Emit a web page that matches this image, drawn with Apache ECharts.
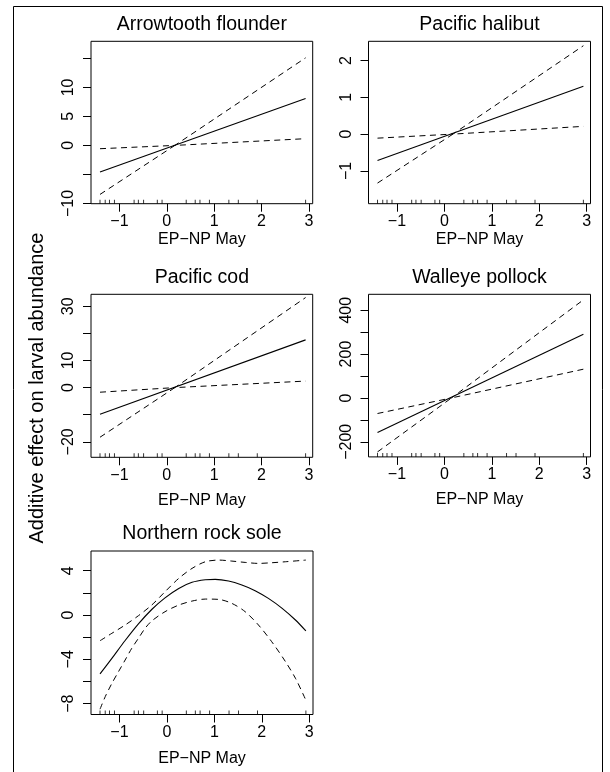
<!DOCTYPE html>
<html>
<head>
<meta charset="utf-8">
</head>
<body style="margin: 0">
  <div id="container" style="width: 610px; height: 772px"></div>
  <script src="https://cdn.jsdelivr.net/npm/echarts@6/dist/echarts.min.js"></script>
  <script>
    // panel titles and common x axis
    var panelTitles = ['Arrowtooth flounder', 'Pacific halibut', 'Pacific cod', 'Walleye pollock', 'Northern rock sole'];
    var xTicks = [-1, 0, 1, 2, 3];
    var rugX = [-1.41, -1.30, -1.21, -1.105, -0.69, -0.60, -0.49, -0.20, -0.10,
                0.41, 0.60, 0.70, 0.90, 1.31, 1.51, 1.91, 2.93];

    // y axis ticks / labels (R skips some labels)
    var yTicks = [
      [-10, -5, 0, 5, 10, 15],
      [-1, 0, 1, 2],
      [-20, -10, 0, 10, 20, 30],
      [-200, -100, 0, 100, 200, 300, 400],
      [-8, -6, -4, -2, 0, 2, 4]
    ];
    var yLabels = [
      [-10, 0, 5, 10],
      [-1, 0, 1, 2],
      [-20, 0, 10, 30],
      [-200, 0, 200, 400],
      [-8, -4, 0, 4]
    ];
    var yMin = [-10.05, -1.89, -25.7, -268.8, -8.98];
    var yMax = [17.95, 2.52, 34.4, 472.4, 5.78];

    // Arrowtooth flounder
    var arrowFit = [[-1.41, -4.6], [2.93, 8.1]];
    var arrowUpper = [[-1.41, -0.57], [0.17, 0], [2.93, 15.1]];
    var arrowLower = [[-1.41, -8.45], [0.17, 0], [2.93, 1.16]];

    // Pacific halibut
    var halibutFit = [[-1.41, -0.715], [2.93, 1.30]];
    var halibutUpper = [[-1.41, -0.11], [0.18, 0], [2.93, 2.40]];
    var halibutLower = [[-1.41, -1.33], [0.18, 0], [2.93, 0.21]];

    // Pacific cod
    var codFit = [[-1.41, -9.8], [2.93, 17.6]];
    var codUpper = [[-1.41, -1.7], [0.17, 0], [2.93, 33.2]];
    var codLower = [[-1.41, -18.3], [0.17, 0], [2.93, 2.4]];

    // Walleye pollock
    var pollockFit = [[-1.41, -158], [2.93, 290]];
    var pollockUpper = [[-1.41, -71], [0.15, 0], [2.93, 447]];
    var pollockLower = [[-1.41, -246], [0.15, 0], [2.93, 131]];

    // Northern rock sole
    var soleFit = [[-1.41, -5.32], [-1.16, -3.91], [-0.88, -2.3], [-0.60, -0.8], [-0.32, 0.5],
      [-0.04, 1.55], [0.25, 2.4], [0.53, 2.95], [0.81, 3.18], [1.02, 3.22], [1.30, 3.07],
      [1.58, 2.71], [1.86, 2.20], [2.14, 1.50], [2.43, 0.60], [2.71, -0.45], [2.93, -1.44]];
    var soleUpper = [[-1.41, -2.32], [-1.16, -1.65], [-0.88, -0.90], [-0.60, -0.06], [-0.32, 0.90],
      [-0.04, 2.10], [0.25, 3.31], [0.53, 4.21], [0.81, 4.81], [1.09, 4.96], [1.37, 4.87],
      [1.65, 4.75], [1.93, 4.66], [2.21, 4.72], [2.50, 4.81], [2.93, 4.96]];
    var soleLower = [[-1.41, -8.5], [-1.30, -7.37], [-1.16, -6.17], [-1.02, -5.11], [-0.88, -4.06],
      [-0.74, -3.0], [-0.60, -2.10], [-0.46, -1.2], [-0.32, -0.54], [-0.04, 0.30], [0.25, 0.90],
      [0.53, 1.26], [0.81, 1.44], [1.09, 1.41], [1.37, 1.05], [1.65, 0.30], [1.93, -0.90],
      [2.21, -2.41], [2.50, -4.21], [2.71, -5.71], [2.88, -7.22], [2.93, -7.7]];

    var panelLines = [
      [arrowFit, arrowUpper, arrowLower],
      [halibutFit, halibutUpper, halibutLower],
      [codFit, codUpper, codLower],
      [pollockFit, pollockUpper, pollockLower],
      [soleFit, soleUpper, soleLower]
    ];

    var dom = document.getElementById('container');
    var myChart = echarts.init(dom, null, { renderer: 'canvas' });

    var FONT = 'Liberation Sans';
    // box positions in px: [left, top, width, height]
    var boxes = [
      [91, 41.3, 221.7, 162.4],
      [368.5, 41.3, 222, 162.4],
      [91, 294.3, 221.7, 163],
      [368.5, 294.3, 222, 162.6],
      [91, 551, 222, 163.5]
    ];
    var nameGaps = [28, 28, 35, 35, 36];

    function minus(v) {
      return String(v).replace('-', '\u2212');
    }

    var grid = [], xAxis = [], yAxis = [], series = [], title = [];
    boxes.forEach(function (b, i) {
      grid.push({
        left: b[0], top: b[1], width: b[2], height: b[3],
        show: true, borderColor: '#000', borderWidth: 1, backgroundColor: 'transparent'
      });
      title.push({
        text: panelTitles[i], left: b[0] + b[2] / 2, top: b[1] - 27, textAlign: 'center', padding: 0,
        textStyle: { fontFamily: FONT, fontSize: 19.5, fontWeight: 'normal', color: '#000' }
      });
      xAxis.push({
        type: 'value', gridIndex: i, min: -1.6, max: 3.08,
        axisLine: { show: false, onZero: false },
        splitLine: { show: false },
        axisTick: { show: true, customValues: xTicks, length: 8, lineStyle: { color: '#000' } },
        axisLabel: { customValues: xTicks, margin: 10, color: '#000', fontFamily: FONT, fontSize: 16, formatter: minus },
        name: 'EP\u2212NP May', nameLocation: 'middle', nameGap: nameGaps[i],
        nameTextStyle: { fontFamily: FONT, fontSize: 16, color: '#000' }
      });
      yAxis.push({
        type: 'value', gridIndex: i, min: yMin[i], max: yMax[i],
        axisLine: { show: false, onZero: false },
        splitLine: { show: false },
        axisTick: { show: true, customValues: yTicks[i], length: 8, lineStyle: { color: '#000' } },
        axisLabel: { customValues: yLabels[i], rotate: 90, margin: 14, color: '#000', fontFamily: FONT, fontSize: 16, formatter: minus }
      });
      var lines = panelLines[i];
      series.push({
        type: 'line', xAxisIndex: i, yAxisIndex: i, data: lines[0], showSymbol: false,
        smooth: i === 4 ? 0.3 : false, lineStyle: { color: '#000', width: 1.1 }
      });
      for (var k = 1; k < 3; k++) {
        series.push({
          type: 'line', xAxisIndex: i, yAxisIndex: i, data: lines[k], showSymbol: false,
          smooth: i === 4 ? 0.3 : false, lineStyle: { color: '#000', width: 1, type: [6, 4.5] }
        });
      }
      series.push({
        type: 'scatter', xAxisIndex: i, yAxisIndex: i, clip: false,
        data: rugX.map(function (x) { return [x, yMin[i]]; }),
        symbol: 'rect', symbolSize: [1, 4], symbolOffset: [0, -2],
        itemStyle: { color: '#000' }, silent: true
      });
    });

    var option = {
      animation: false,
      backgroundColor: '#fff',
      title: title,
      grid: grid,
      xAxis: xAxis,
      yAxis: yAxis,
      series: series,
      graphic: [
        {
          type: 'rect', shape: { x: 13.5, y: 6.5, width: 589, height: 780 },
          style: { fill: 'none', stroke: '#000', lineWidth: 1 }
        },
        {
          type: 'text', x: 37, y: 388, rotation: Math.PI / 2,
          style: {
            text: 'Additive effect on larval abundance', align: 'center', verticalAlign: 'middle',
            font: '20px "Liberation Sans"', fill: '#000'
          }
        }
      ]
    };

    myChart.setOption(option);
    window.addEventListener('resize', myChart.resize);
  </script>
</body>
</html>
